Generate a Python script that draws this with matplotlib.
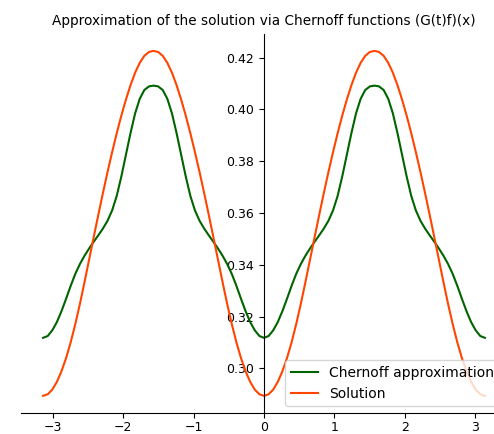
import matplotlib
matplotlib.use("Agg")
import matplotlib.pyplot as plt

# sample positions (x)
x_vals = [
    -3.1416, -3.0761, -3.0107, -2.9452, -2.8798, -2.8143, -2.7489, -2.6834,
    -2.6180, -2.5525, -2.4871, -2.4216, -2.3562, -2.2907, -2.2253, -2.1598,
    -2.0944, -2.0289, -1.9635, -1.8980, -1.8326, -1.7671, -1.7017, -1.6362,
    -1.5708, -1.5053, -1.4399, -1.3744, -1.3090, -1.2435, -1.1781, -1.1126,
    -1.0472, -0.9817, -0.9163, -0.8508, -0.7854, -0.7199, -0.6545, -0.5890,
    -0.5236, -0.4581, -0.3927, -0.3272, -0.2618, -0.1963, -0.1309, -0.0654,
    0.0000,
    0.0654, 0.1309, 0.1963, 0.2618, 0.3272, 0.3927, 0.4581, 0.5236,
    0.5890, 0.6545, 0.7199, 0.7854, 0.8508, 0.9163, 0.9817, 1.0472,
    1.1126, 1.1781, 1.2435, 1.3090, 1.3744, 1.4399, 1.5053, 1.5708,
    1.6362, 1.7017, 1.7671, 1.8326, 1.8980, 1.9635, 2.0289, 2.0944,
    2.1598, 2.2253, 2.2907, 2.3562, 2.4216, 2.4871, 2.5525, 2.6180,
    2.6834, 2.7489, 2.8143, 2.8798, 2.9452, 3.0107, 3.0761, 3.1416,
]

chernoff = [
    0.3118, 0.3125, 0.3147, 0.3179, 0.3221, 0.3269, 0.3319, 0.3365,
    0.3403, 0.3435, 0.3463, 0.3489, 0.3514, 0.3540, 0.3570, 0.3610,
    0.3666, 0.3741, 0.3825, 0.3909, 0.3985, 0.4041, 0.4075, 0.4089,
    0.4092, 0.4089, 0.4075, 0.4041, 0.3985, 0.3909, 0.3825, 0.3741,
    0.3666, 0.3610, 0.3570, 0.3540, 0.3514, 0.3489, 0.3463, 0.3435,
    0.3403, 0.3365, 0.3319, 0.3269, 0.3221, 0.3179, 0.3147, 0.3125,
    0.3118,
    0.3125, 0.3147, 0.3179, 0.3221, 0.3269, 0.3319, 0.3365, 0.3403,
    0.3435, 0.3463, 0.3489, 0.3514, 0.3540, 0.3570, 0.3610, 0.3666,
    0.3741, 0.3825, 0.3909, 0.3985, 0.4041, 0.4075, 0.4089, 0.4092,
    0.4089, 0.4075, 0.4041, 0.3985, 0.3909, 0.3825, 0.3741, 0.3666,
    0.3610, 0.3570, 0.3540, 0.3514, 0.3489, 0.3463, 0.3435, 0.3403,
    0.3365, 0.3319, 0.3269, 0.3221, 0.3179, 0.3147, 0.3125, 0.3118,
]

solution = [
    0.2894, 0.2900, 0.2918, 0.2948, 0.2989, 0.3040, 0.3101, 0.3171,
    0.3249, 0.3333, 0.3420, 0.3507, 0.3593, 0.3677, 0.3758, 0.3835,
    0.3908, 0.3976, 0.4038, 0.4094, 0.4142, 0.4180, 0.4207, 0.4222,
    0.4226, 0.4222, 0.4207, 0.4180, 0.4142, 0.4094, 0.4038, 0.3976,
    0.3908, 0.3835, 0.3758, 0.3677, 0.3593, 0.3507, 0.3420, 0.3333,
    0.3249, 0.3171, 0.3101, 0.3040, 0.2989, 0.2948, 0.2918, 0.2900,
    0.2894,
    0.2900, 0.2918, 0.2948, 0.2989, 0.3040, 0.3101, 0.3171, 0.3249,
    0.3333, 0.3420, 0.3507, 0.3593, 0.3677, 0.3758, 0.3835, 0.3908,
    0.3976, 0.4038, 0.4094, 0.4142, 0.4180, 0.4207, 0.4222, 0.4226,
    0.4222, 0.4207, 0.4180, 0.4142, 0.4094, 0.4038, 0.3976, 0.3908,
    0.3835, 0.3758, 0.3677, 0.3593, 0.3507, 0.3420, 0.3333, 0.3249,
    0.3171, 0.3101, 0.3040, 0.2989, 0.2948, 0.2918, 0.2900, 0.2894,
]

fig = plt.figure(figsize=(4.94, 4.34), dpi=100)
# the axes run past the right edge in the reference (legend is clipped there)
ax = fig.add_axes([0.0425, 0.0482, 0.9838, 0.8742])

ax.plot(x_vals, chernoff, color="darkgreen", linewidth=1.5, label="Chernoff approximation")
ax.plot(x_vals, solution, color="orangered", linewidth=1.5, label="Solution")

# y axis crosses at x = 0
ax.spines["left"].set_position("zero")
ax.spines["right"].set_visible(False)
ax.spines["top"].set_visible(False)

ax.tick_params(labelsize=9)
ax.tick_params(axis="x", pad=2.5)
ax.set_title("Approximation of the solution via Chernoff functions (G(t)f)(x)", fontsize=9.8)
ax.legend(loc="lower right", fontsize=10)

fig.savefig("out.png", dpi=100)
